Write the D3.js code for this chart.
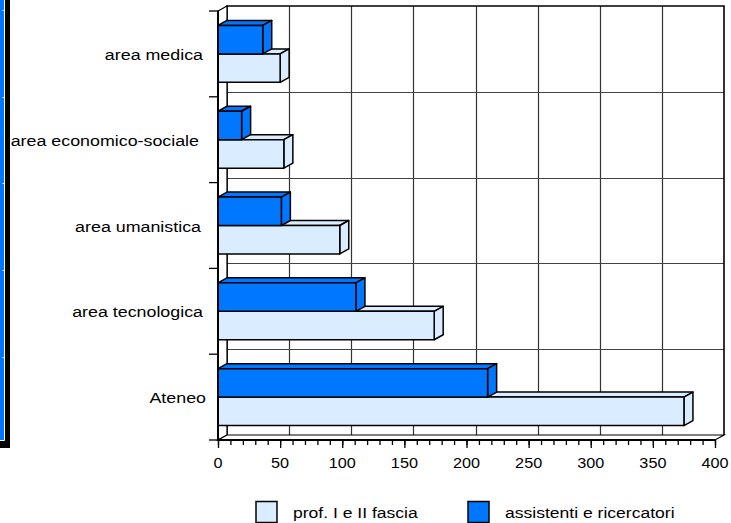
<!DOCTYPE html>
<html>
<head>
<meta charset="utf-8">
<script src="https://cdn.jsdelivr.net/npm/d3@7/dist/d3.min.js"></script>
<style>
  html, body { margin: 0; padding: 0; background: #fff; }
  svg { display: block; }
  text { font-family: "Liberation Sans", Arial, Helvetica, sans-serif; fill: #000; }
</style>
</head>
<body>
<svg id="chart" width="731" height="523"></svg>
<script>
// Personale docente per area
const categories = ["area medica", "area economico-sociale", "area umanistica", "area tecnologica", "Ateneo"];
const seriesNames = ["assistenti e ricercatori", "prof. I e II fascia"];
const assistenti = [36, 19, 51, 111, 217];
const professori = [50, 53, 98, 174, 375];
const xTicks = [0, 50, 100, 150, 200, 250, 300, 350, 400];
const xMinorTicks = d3.range(0, 401, 10);
const legendOrder = ["prof. I e II fascia", "assistenti e ricercatori"];

const colors = { "assistenti e ricercatori": "#0077ff", "prof. I e II fascia": "#daecff" };
const values = { "assistenti e ricercatori": assistenti, "prof. I e II fascia": professori };

const svg = d3.select("#chart");

// 3D depth offset of the plot box
const DX = 9, DY = -5;
const top0 = 11, bottom0 = 440;

const x = d3.scaleLinear().domain([0, 400]).range([218, 715]);
const y = d3.scaleBand().domain(categories).range([top0, bottom0])
  .paddingInner(0.337).paddingOuter(0.1685);
const ys = d3.scaleBand().domain(seriesNames).range([0, y.bandwidth()]);

// Strip at the left margin
svg.append("rect").attr("x", 0).attr("y", 0).attr("width", 10).attr("height", 448).attr("fill", "#000");
svg.append("rect").attr("x", 0).attr("y", 0).attr("width", 4).attr("height", 440).attr("fill", "#0077ff");
svg.append("path").attr("d", "M4.5,0V440.5H0").attr("fill", "none").attr("stroke", "#fff").attr("stroke-width", 1);
[10, 97, 183, 270, 357].forEach(v => {
  svg.append("line").attr("x1", 2.5).attr("x2", 4.5).attr("y1", v + 0.5).attr("y2", v + 0.5)
    .attr("stroke", "#fff").attr("stroke-width", 1);
});

const g = svg.append("g");

// Back wall
const bx0 = x(0) + DX, bx1 = x(400) + DX, by0 = top0 + DY, by1 = bottom0 + DY;
g.append("rect").attr("x", bx0).attr("y", by0).attr("width", bx1 - bx0).attr("height", by1 - by0)
  .attr("fill", "#fff");

// Vertical gridlines on the back wall
g.selectAll(".vgrid").data(xTicks.slice(1, -1)).join("line")
  .attr("x1", d => Math.round(x(d) + DX) + 0.5).attr("x2", d => Math.round(x(d) + DX) + 0.5)
  .attr("y1", by0).attr("y2", by1)
  .attr("stroke", "#333").attr("stroke-width", 1.2);

// Horizontal gridlines on the back wall, at category boundaries
const bounds = categories.map((c, i) => top0 + i * y.step()).slice(1);
g.selectAll(".hgrid").data(bounds).join("line")
  .attr("x1", bx0).attr("x2", bx1)
  .attr("y1", d => Math.round(d + DY) + 0.5).attr("y2", d => Math.round(d + DY) + 0.5)
  .attr("stroke", "#444").attr("stroke-width", 1.2);

// Back wall outline
g.append("path")
  .attr("d", `M${bx0},${by1}V${by0}H${bx1}V${by1}`)
  .attr("fill", "none").attr("stroke", "#000").attr("stroke-width", 1.6);

// Side wall and floor
g.append("path")
  .attr("d", `M${x(0)},${top0}L${bx0},${by0}V${by1}L${x(0)},${bottom0}Z`)
  .attr("fill", "#fff").attr("stroke", "#000").attr("stroke-width", 1.2);
g.append("path")
  .attr("d", `M${x(0)},${bottom0}L${bx0},${by1}H${bx1}L${x(400)},${bottom0}Z`)
  .attr("fill", "#fff").attr("stroke", "#000").attr("stroke-width", 1.2);

// 3D bars: draw the lower series first so the upper one overlaps its top face
function bar3d(sel, x0, x1, yTop, h, fill) {
  const b = sel.append("g").attr("stroke", "#000").attr("stroke-width", 1.5)
    .attr("stroke-linejoin", "round").attr("fill", fill);
  b.append("path").attr("d",
    `M${x0},${yTop}L${x0 + DX},${yTop + DY}H${x1 + DX}L${x1},${yTop}Z`);
  b.append("path").attr("d",
    `M${x1},${yTop}L${x1 + DX},${yTop + DY}V${yTop + h + DY}L${x1},${yTop + h}Z`);
  b.append("rect").attr("x", x0).attr("y", yTop).attr("width", x1 - x0).attr("height", h);
}

categories.forEach((cat, i) => {
  const cg = g.append("g");
  ["prof. I e II fascia", "assistenti e ricercatori"].forEach(s => {
    const v = values[s][i];
    bar3d(cg, x(0), x(v), y(cat) + ys(s), ys.bandwidth(), colors[s]);
  });
});

// Front axis lines
g.append("line").attr("x1", x(0)).attr("x2", x(0)).attr("y1", top0).attr("y2", bottom0)
  .attr("stroke", "#000").attr("stroke-width", 2);
g.append("line").attr("x1", x(0)).attr("x2", x(400)).attr("y1", bottom0).attr("y2", bottom0)
  .attr("stroke", "#000").attr("stroke-width", 2);

// Bottom axis: minor and major ticks
const minorAxis = d3.axisBottom(x).tickValues(xMinorTicks).tickSize(5).tickFormat("");
const majorAxis = d3.axisBottom(x).tickValues(xTicks).tickSize(8).tickFormat("");
const ax1 = svg.append("g").attr("transform", `translate(0,${bottom0})`).call(minorAxis);
const ax2 = svg.append("g").attr("transform", `translate(0,${bottom0})`).call(majorAxis);
[ax1, ax2].forEach(a => {
  a.select(".domain").remove();
  a.selectAll("line").attr("stroke", "#000").attr("stroke-width", 1.3);
});

// Tick labels
svg.append("g").selectAll("text").data(xTicks).join("text")
  .attr("transform", d => `translate(${x(d)},468) scale(1.08,1)`)
  .attr("text-anchor", "middle")
  .style("font-size", "15px")
  .text(d => d);

// Left axis ticks at category boundaries
const leftTicks = categories.map((c, i) => top0 + i * y.step()).concat([top0 + categories.length * y.step()]);
svg.append("g").selectAll("line").data(leftTicks).join("line")
  .attr("x1", x(0) - 9).attr("x2", x(0))
  .attr("y1", d => d).attr("y2", d => d)
  .attr("stroke", "#000").attr("stroke-width", 1.3);

// Category labels
const labelRight = { "area medica": 203, "area economico-sociale": 199, "area umanistica": 201,
                     "area tecnologica": 203, "Ateneo": 206 };
svg.append("g").selectAll("text").data(categories).join("text")
  .attr("transform", d => `translate(${labelRight[d]},${y(d) + y.bandwidth() / 2 + 6}) scale(1.19,1)`)
  .attr("text-anchor", "end")
  .style("font-size", "15px")
  .text(d => d);

// Legend
const legendX = { "prof. I e II fascia": 256, "assistenti e ricercatori": 468 };
const lg = svg.append("g");
legendOrder.forEach(s => {
  lg.append("rect").attr("x", legendX[s]).attr("y", 501.5).attr("width", 21).attr("height", 21)
    .attr("fill", colors[s]).attr("stroke", "#000").attr("stroke-width", 1.5);
  lg.append("text")
    .attr("transform", `translate(${legendX[s] + 37},518) scale(1.17,1)`)
    .style("font-size", "15px")
    .text(s);
});
</script>
</body>
</html>
